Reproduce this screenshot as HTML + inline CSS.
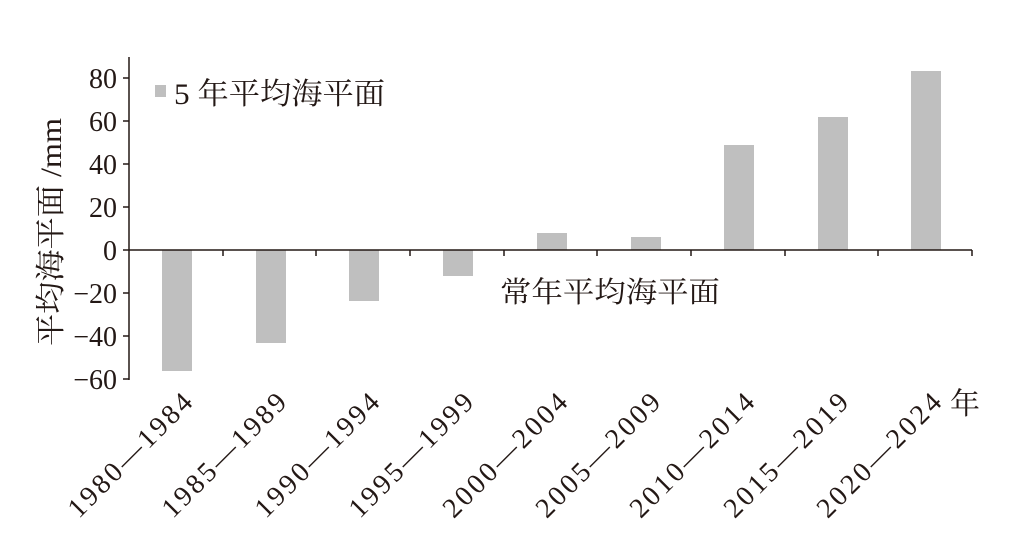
<!DOCTYPE html>
<html><head><meta charset="utf-8"><style>
html,body{margin:0;padding:0;background:#fff}
svg{display:block}
text{font-family:"Liberation Serif","Noto Serif CJK SC",serif;fill:#231815}
</style></head><body>
<svg width="1013" height="537" viewBox="0 0 1013 537" xmlns="http://www.w3.org/2000/svg">
<g fill="#bfbfbf">
<rect x="162" y="250" width="30" height="121"/>
<rect x="256" y="250" width="30" height="93"/>
<rect x="349" y="250" width="30" height="51"/>
<rect x="443" y="250" width="30" height="26"/>
<rect x="537" y="233" width="30" height="17"/>
<rect x="631" y="237" width="30" height="13"/>
<rect x="724" y="145" width="30" height="105"/>
<rect x="818" y="117" width="30" height="133"/>
<rect x="911" y="71" width="30" height="179"/>
</g>
<g stroke="#231815" stroke-width="1.5" fill="none">
<line x1="129" y1="57" x2="129" y2="380"/>
<line x1="129" y1="250" x2="972" y2="250"/>
<line x1="123" y1="78" x2="129" y2="78"/>
<line x1="123" y1="121" x2="129" y2="121"/>
<line x1="123" y1="164" x2="129" y2="164"/>
<line x1="123" y1="207" x2="129" y2="207"/>
<line x1="123" y1="250" x2="129" y2="250"/>
<line x1="123" y1="293" x2="129" y2="293"/>
<line x1="123" y1="336" x2="129" y2="336"/>
<line x1="123" y1="379" x2="129" y2="379"/>
<line x1="223" y1="250" x2="223" y2="256"/>
<line x1="316" y1="250" x2="316" y2="256"/>
<line x1="410" y1="250" x2="410" y2="256"/>
<line x1="504" y1="250" x2="504" y2="256"/>
<line x1="597" y1="250" x2="597" y2="256"/>
<line x1="691" y1="250" x2="691" y2="256"/>
<line x1="785" y1="250" x2="785" y2="256"/>
<line x1="878" y1="250" x2="878" y2="256"/>
<line x1="972" y1="250" x2="972" y2="256"/>
</g>
<g font-size="28" text-anchor="end">
<text x="117" y="88">80</text>
<text x="117" y="131">60</text>
<text x="117" y="174">40</text>
<text x="117" y="217">20</text>
<text x="117" y="260">0</text>
<text x="117" y="303">−20</text>
<text x="117" y="346">−40</text>
<text x="117" y="389">−60</text>
</g>
<g font-size="28" text-anchor="end">
<text transform="translate(194,404) rotate(-45)" textLength="163">1980—1984</text>
<text transform="translate(288,404) rotate(-45)" textLength="163">1985—1989</text>
<text transform="translate(381,404) rotate(-45)" textLength="163">1990—1994</text>
<text transform="translate(475,404) rotate(-45)" textLength="163">1995—1999</text>
<text transform="translate(569,404) rotate(-45)" textLength="163">2000—2004</text>
<text transform="translate(662,404) rotate(-45)" textLength="163">2005—2009</text>
<text transform="translate(756,404) rotate(-45)" textLength="163">2010—2014</text>
<text transform="translate(850,404) rotate(-45)" textLength="163">2015—2019</text>
<text transform="translate(943,404) rotate(-45)" textLength="163">2020—2024</text>
</g>
<text x="950" y="414" font-size="30">年</text>
<rect x="155" y="85" width="11" height="12" fill="#bfbfbf"/>
<text x="174" y="104" font-size="30" textLength="211" lengthAdjust="spacingAndGlyphs">5 年平均海平面</text>
<text x="500" y="302" font-size="29" textLength="220" lengthAdjust="spacingAndGlyphs">常年平均海平面</text>
<text transform="translate(61,232) rotate(-90)" font-size="30" text-anchor="middle" textLength="228" lengthAdjust="spacingAndGlyphs">平均海平面 /mm</text>
</svg>
</body></html>
